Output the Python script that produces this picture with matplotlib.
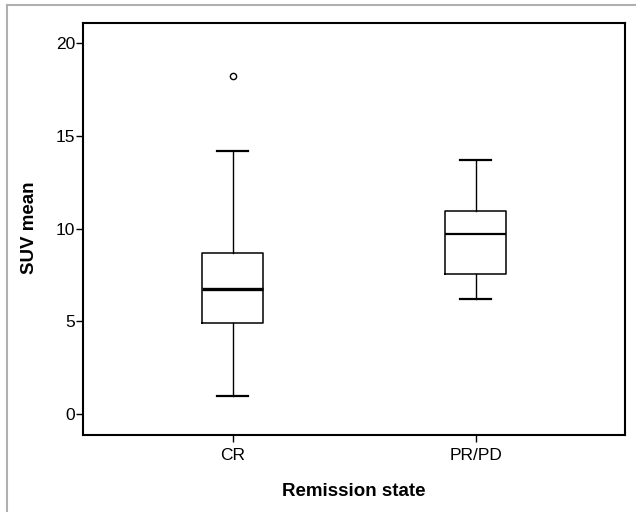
import matplotlib
matplotlib.use("Agg")
import matplotlib.pyplot as plt
from matplotlib.lines import Line2D

plt.rcParams['font.family'] = ['Liberation Sans', 'DejaVu Sans']

categories = ["CR", "PR/PD"]
whisker_low = [1.0, 6.2]
q1 = [4.93, 7.55]
median = [6.77, 9.69]
q3 = [8.70, 10.97]
whisker_high = [14.2, 13.7]
outliers = [[18.2], []]
y_ticks = [0, 5, 10, 15, 20]

fig = plt.figure(figsize=(6.36, 5.12), dpi=100)
ax = fig.add_axes([83.3 / 636, 1 - 434.5 / 512, (625 - 83.3) / 636, (434.5 - 22.7) / 512])

stats = []
for i, c in enumerate(categories):
    stats.append(dict(label=c, whislo=whisker_low[i], q1=q1[i], med=median[i],
                      q3=q3[i], whishi=whisker_high[i], fliers=outliers[i]))

positions = list(range(1, len(categories) + 1))
bp = ax.bxp(stats, positions=positions, widths=0.25, capwidths=0.126,
            patch_artist=False,
            boxprops=dict(color='black', linewidth=1.1),
            whiskerprops=dict(color='black', linewidth=1.0),
            capprops=dict(color='black', linewidth=1.6),
            medianprops=dict(color='black', linewidth=1.6),
            flierprops=dict(marker='o', markersize=4.5, markerfacecolor='white',
                            markeredgecolor='black', markeredgewidth=1.0))
bp['medians'][0].set_linewidth(2.4)

ax.set_xlim(0.386, 2.614)
ax.set_ylim(-1.1, 21.1)
ax.set_yticks(y_ticks)
ax.set_xticks(positions)
ax.set_xticklabels(categories)

for s in ax.spines.values():
    s.set_linewidth(1.5)
    s.set_color('black')

ax.tick_params(axis='y', length=5, width=1.0, pad=1.0, labelsize=12.5)
ax.tick_params(axis='x', length=5, width=1.0, pad=5, labelsize=12.5)

ax.set_xlabel("Remission state", fontsize=13.5, fontweight='bold')
ax.xaxis.set_label_coords(0.5, (434.5 - 491.7) / 411.8)
ax.xaxis.label.set_va('center')
ax.set_ylabel("SUV mean", fontsize=13.5, fontweight='bold')
ax.yaxis.set_label_coords((29.7 - 83.3) / 541.7, (434.5 - 228) / 411.8)
ax.yaxis.label.set_va('center')

# light gray frame lines (top and left)
fig.add_artist(Line2D([6.7 / 636, 6.7 / 636], [0, 1 - 5 / 512], transform=fig.transFigure,
                      color='#b0b0b0', linewidth=1.5))
fig.add_artist(Line2D([6.7 / 636, 1], [1 - 5 / 512, 1 - 5 / 512], transform=fig.transFigure,
                      color='#b0b0b0', linewidth=1.5))

fig.savefig("out.png", dpi=100)
